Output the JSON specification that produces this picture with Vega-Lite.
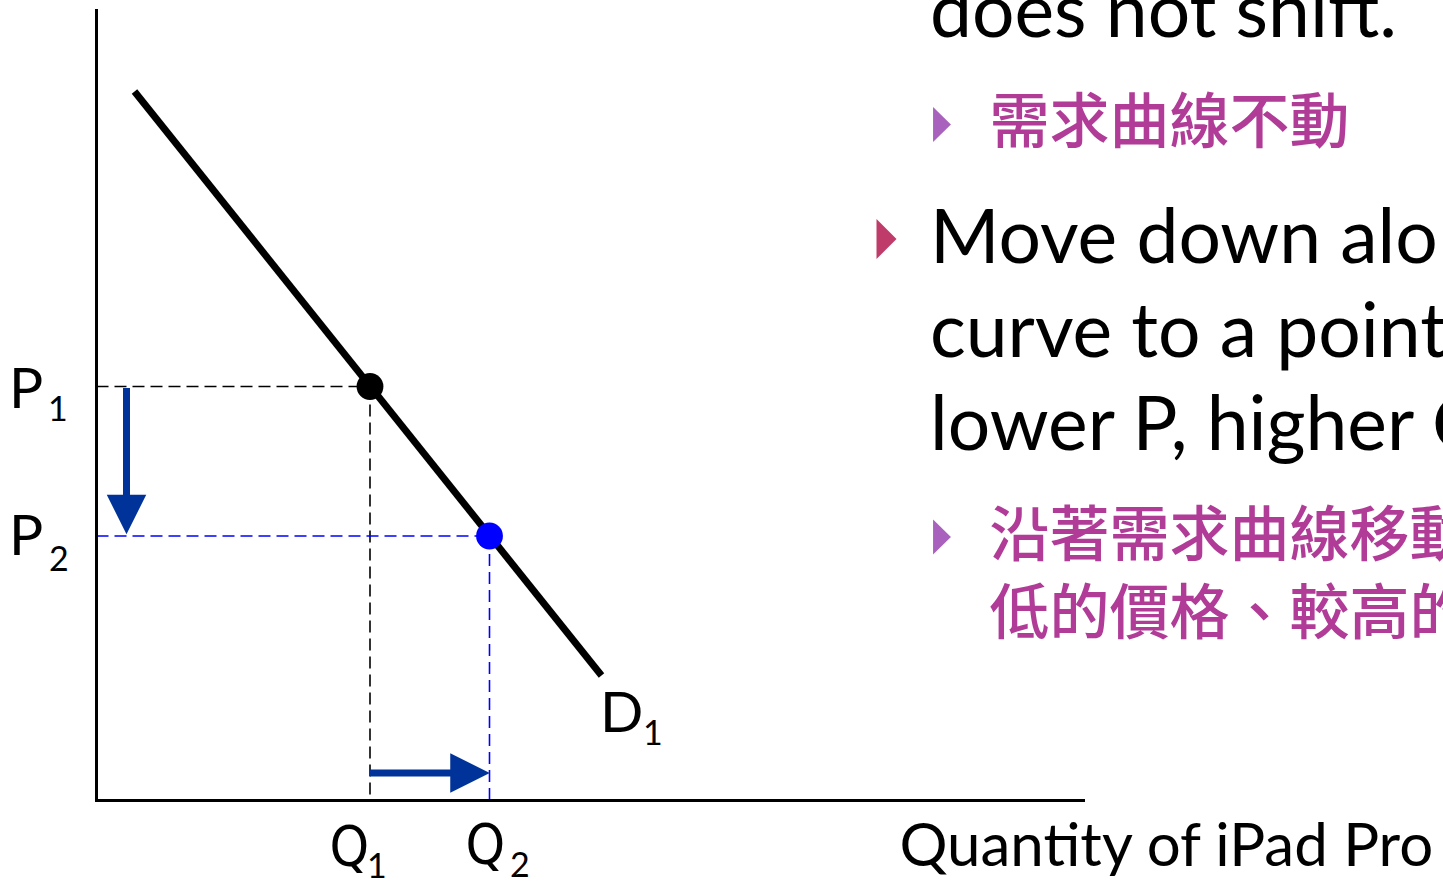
{
  "$schema": "https://vega.github.io/schema/vega-lite/v6.json",
  "width": 1443,
  "height": 881,
  "autosize": {"type": "none"},
  "padding": 0,
  "background": "white",
  "config": {"view": {"stroke": null}},
  "datasets": {
    "axes": [
      {"q": 0, "p": -0.015, "q2": 0, "p2": 7.915},
      {"q": -0.015, "p": 0, "q2": 9.885, "p2": 0}
    ],
    "demand": [{"q": 0.38, "p": 7.09, "q2": 5.05, "p2": 1.25}],
    "guides": [
      {"q": 0, "p": 4.14, "q2": 2.735, "p2": 4.14, "g": "P1"},
      {"q": 2.735, "p": 4.14, "q2": 2.735, "p2": 0, "g": "P1"},
      {"q": 0, "p": 2.645, "q2": 3.93, "p2": 2.645, "g": "P2"},
      {"q": 3.93, "p": 2.645, "q2": 3.93, "p2": 0, "g": "P2"}
    ],
    "points": [
      {"q": 2.735, "p": 4.14, "g": "P1"},
      {"q": 3.93, "p": 2.645, "g": "P2"}
    ],
    "shafts": [
      {"q": 0.30, "p": 4.125, "q2": 0.30, "p2": 3.035},
      {"q": 2.735, "p": 0.275, "q2": 3.555, "p2": 0.275}
    ],
    "headDown": [{"q": 0.30, "p": 2.86}],
    "headRight": [{"q": 3.735, "p": 0.275}],
    "pLabels": [
      {"q": -0.875, "p": 3.925, "t": "P"},
      {"q": -0.875, "p": 2.455, "t": "P"},
      {"q": 5.035, "p": 0.685, "t": "D"}
    ],
    "qLabels": [
      {"q": 2.33, "p": -0.645, "t": "Q"},
      {"q": 3.69, "p": -0.625, "t": "Q"}
    ],
    "subLabels": [
      {"q": -0.485, "p": 3.795, "t": "1"},
      {"q": -0.475, "p": 2.295, "t": "2"},
      {"q": 2.705, "p": -0.775, "t": "1"},
      {"q": 4.135, "p": -0.765, "t": "2"},
      {"q": 5.465, "p": 0.555, "t": "1"}
    ],
    "axisTitle": [{"q": 8.03, "p": -0.655, "t": "Quantity of iPad Pro"}],
    "english": [
      {"q": 8.335, "p": 7.635, "t": "does not shift."},
      {"q": 8.335, "p": 5.375, "t": "Move down along the"},
      {"q": 8.335, "p": 4.435, "t": "curve to a point with"},
      {"q": 8.335, "p": 3.505, "t": "lower P, higher Q."}
    ],
    "chinese": [
      {"q": 8.93, "p": 6.58, "t": "需求曲線不動"},
      {"q": 8.93, "p": 2.45, "t": "沿著需求曲線移動到"},
      {"q": 8.93, "p": 1.67, "t": "低的價格、較高的需求量"}
    ],
    "bulletRed": [{"q": 7.9, "p": 5.615}],
    "bulletPurple": [
      {"q": 8.455, "p": 6.76},
      {"q": 8.455, "p": 2.635}
    ]
  },
  "encoding": {
    "x": {"field": "q", "type": "quantitative", "scale": {"domain": [-0.965, 13.465], "nice": false, "zero": false}, "axis": null},
    "y": {"field": "p", "type": "quantitative", "scale": {"domain": [-0.805, 8.005], "nice": false, "zero": false}, "axis": null}
  },
  "layer": [
    {
      "data": {"name": "guides"},
      "mark": {"type": "rule", "strokeWidth": 1.6, "strokeDash": [12, 6]},
      "encoding": {
        "x2": {"field": "q2"},
        "y2": {"field": "p2"},
        "color": {"field": "g", "type": "nominal", "scale": {"domain": ["P1", "P2"], "range": ["#000000", "#0000ff"]}, "legend": null}
      }
    },
    {
      "data": {"name": "axes"},
      "mark": {"type": "rule", "strokeWidth": 3, "color": "#000000"},
      "encoding": {"x2": {"field": "q2"}, "y2": {"field": "p2"}}
    },
    {
      "data": {"name": "demand"},
      "mark": {"type": "rule", "strokeWidth": 7, "color": "#000000", "strokeCap": "butt"},
      "encoding": {"x2": {"field": "q2"}, "y2": {"field": "p2"}}
    },
    {
      "data": {"name": "points"},
      "mark": {"type": "point", "filled": true, "size": 720, "opacity": 1, "shape": "circle"},
      "encoding": {
        "color": {"field": "g", "type": "nominal", "scale": {"domain": ["P1", "P2"], "range": ["#000000", "#0000ff"]}, "legend": null}
      }
    },
    {
      "data": {"name": "shafts"},
      "mark": {"type": "rule", "strokeWidth": 7, "color": "#003399", "strokeCap": "butt"},
      "encoding": {"x2": {"field": "q2"}, "y2": {"field": "p2"}}
    },
    {
      "data": {"name": "headDown"},
      "mark": {"type": "point", "filled": true, "opacity": 1, "color": "#003399", "size": 1560, "shape": "M-1,-1L1,-1L0,1Z"}
    },
    {
      "data": {"name": "headRight"},
      "mark": {"type": "point", "filled": true, "opacity": 1, "color": "#003399", "size": 1560, "shape": "M-1,-1L1,0L-1,1Z"}
    },
    {
      "data": {"name": "pLabels"},
      "mark": {"type": "text", "font": "Lato", "fontSize": 57, "align": "left", "baseline": "alphabetic", "color": "#000000"},
      "encoding": {"text": {"field": "t"}}
    },
    {
      "data": {"name": "qLabels"},
      "mark": {"type": "text", "font": "DejaVu Sans Condensed, Lato", "fontSize": 56, "align": "left", "baseline": "alphabetic", "color": "#000000"},
      "encoding": {"text": {"field": "t"}}
    },
    {
      "data": {"name": "subLabels"},
      "mark": {"type": "text", "font": "Lato", "fontSize": 34, "align": "left", "baseline": "alphabetic", "color": "#000000"},
      "encoding": {"text": {"field": "t"}}
    },
    {
      "data": {"name": "axisTitle"},
      "mark": {"type": "text", "font": "Lato", "fontSize": 60, "align": "left", "baseline": "alphabetic", "color": "#000000", "clip": true},
      "encoding": {"text": {"field": "t"}}
    },
    {
      "data": {"name": "english"},
      "mark": {"type": "text", "font": "Lato", "fontSize": 75, "align": "left", "baseline": "alphabetic", "color": "#000000", "clip": true},
      "encoding": {"text": {"field": "t"}}
    },
    {
      "data": {"name": "chinese"},
      "mark": {"type": "text", "font": "Noto Sans CJK TC", "fontSize": 60, "fontWeight": 500, "align": "left", "baseline": "alphabetic", "color": "#b03c98", "clip": true},
      "encoding": {"text": {"field": "t"}}
    },
    {
      "data": {"name": "bulletRed"},
      "mark": {"type": "point", "filled": true, "opacity": 1, "color": "#bf3b69", "size": 1600, "shape": "M-0.5,-1L0.5,0L-0.5,1Z"}
    },
    {
      "data": {"name": "bulletPurple"},
      "mark": {"type": "point", "filled": true, "opacity": 1, "color": "#a862bd", "size": 1225, "shape": "M-0.51,-1L0.51,0L-0.51,1Z"}
    }
  ]
}
